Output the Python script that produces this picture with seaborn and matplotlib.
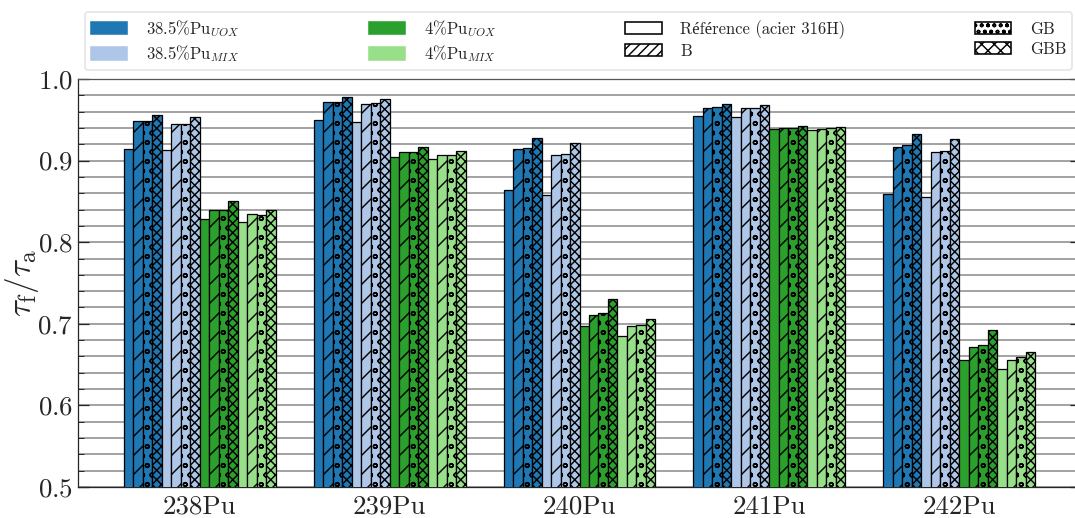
import numpy as np
import pandas as pd
import matplotlib.pyplot as plt
import seaborn as sns
from matplotlib.patches import Patch
from matplotlib.ticker import MultipleLocator

isotopes = ["238Pu", "239Pu", "240Pu", "241Pu", "242Pu"]
series = ["38.5%Pu$_{UOX}$", "38.5%Pu$_{MIX}$", "4%Pu$_{UOX}$", "4%Pu$_{MIX}$"]
variants = ["Référence (acier 316H)", "B", "GB", "GBB"]
colors = ["#1f77b4", "#aec7e8", "#2ca02c", "#98df8a"]
hatches = ["", "//", "oo", "xxxx"]
legend_hatches = ["", "////", "ooo", "xxx"]

# valeurs : [isotope][variante] pour chaque série
uox_385 = [[0.914, 0.948, 0.949, 0.956],
           [0.950, 0.972, 0.972, 0.978],
           [0.864, 0.914, 0.916, 0.928],
           [0.955, 0.965, 0.966, 0.969],
           [0.859, 0.917, 0.919, 0.933]]
mix_385 = [[0.913, 0.945, 0.945, 0.954],
           [0.947, 0.969, 0.970, 0.976],
           [0.858, 0.907, 0.908, 0.922],
           [0.954, 0.964, 0.964, 0.968],
           [0.856, 0.911, 0.912, 0.926]]
uox_4 = [[0.829, 0.840, 0.839, 0.851],
         [0.904, 0.911, 0.910, 0.917],
         [0.697, 0.711, 0.713, 0.730],
         [0.939, 0.940, 0.940, 0.943],
         [0.656, 0.671, 0.674, 0.693]]
mix_4 = [[0.825, 0.834, 0.833, 0.840],
         [0.902, 0.907, 0.907, 0.912],
         [0.685, 0.697, 0.698, 0.706],
         [0.938, 0.939, 0.940, 0.941],
         [0.645, 0.656, 0.659, 0.666]]
all_values = [uox_385, mix_385, uox_4, mix_4]

rows = []
for s, vals in enumerate(all_values):
    for i, iso in enumerate(isotopes):
        for v in range(len(variants)):
            rows.append({"isotope": iso, "combo": f"{s}-{v}", "val": vals[i][v]})
df = pd.DataFrame(rows)
order = [f"{s}-{v}" for s in range(4) for v in range(4)]
palette = {f"{s}-{v}": colors[s] for s in range(4) for v in range(4)}

sns.set_style("ticks")
plt.rcParams["font.family"] = ["cmr10", "Liberation Serif"]
plt.rcParams["mathtext.fontset"] = "cm"
plt.rcParams["axes.formatter.use_mathtext"] = True
plt.rcParams["hatch.linewidth"] = 0.9

dpi = 114
fig = plt.figure(figsize=(1075 / dpi, 518 / dpi), dpi=dpi)
ax = fig.add_axes([78 / 1075, 31 / 518, 1003 / 1075, 408 / 518])

sns.barplot(data=df, x="isotope", y="val", hue="combo", hue_order=order,
            palette=palette, width=0.8, saturation=1, legend=False, ax=ax, zorder=3)

for k, cont in enumerate(ax.containers):
    h = hatches[k % 4]
    for bar in cont:
        bar.set_hatch(h)
        bar.set_edgecolor("k")
        bar.set_linewidth(0.8)

ax.set_ylim(0.5, 1.0)
ax.set_xlim(-0.64, 4.64)
ax.yaxis.set_major_locator(MultipleLocator(0.1))
ax.yaxis.set_minor_locator(MultipleLocator(0.02))
ax.grid(axis="y", which="both", color="#a0a0a0", linewidth=1.2, zorder=0)
ax.set_axisbelow(True)
ax.tick_params(axis="y", which="major", direction="in", length=7, right=True,
               labelsize=17, pad=3)
ax.tick_params(axis="y", which="minor", direction="in", length=4, right=True)
ax.tick_params(axis="x", length=0, labelsize=17, pad=5)
ax.spines["top"].set_color("#555555")
ax.set_xlabel("")
ax.set_ylabel(r"$\tau_\mathrm{f}/\tau_\mathrm{a}$", fontsize=21)
ax.yaxis.set_label_coords(-0.037, 0.5)

handles = [Patch(facecolor=c, edgecolor=c, label=l) for c, l in zip(colors, series)]
handles += [Patch(facecolor="white", edgecolor="k", hatch=h, label=l)
            for h, l in zip(legend_hatches, variants)]
# 2 lignes x 4 colonnes
leg = fig.legend(handles=handles, loc="upper left", ncol=4, mode="expand",
                 bbox_to_anchor=(85 / 1075, 1 - 12 / 518, 987 / 1075, 0),
                 fontsize=10.5, handlelength=2.2, handleheight=0.75,
                 handletextpad=1.1, labelspacing=0.28, borderpad=0.35,
                 frameon=True, fancybox=True, borderaxespad=0)
leg.get_frame().set_edgecolor("#dddddd")

fig.savefig("out.png", dpi=dpi)
